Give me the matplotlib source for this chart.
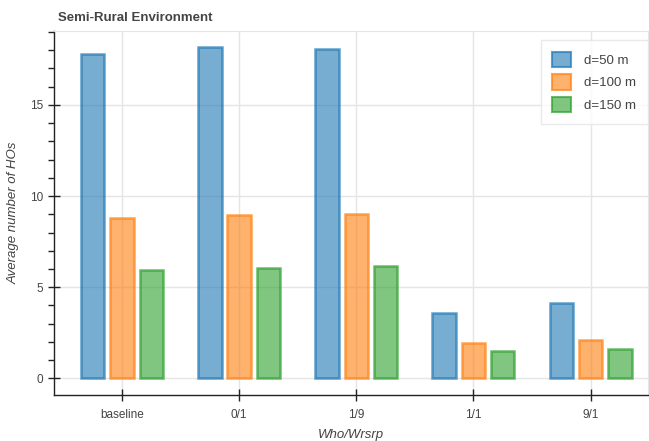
import numpy as np
import matplotlib
matplotlib.use("Agg")
import matplotlib.pyplot as plt
from matplotlib.patches import Patch

plt.rcParams["font.family"] = ["Liberation Sans", "DejaVu Sans"]

categories = ["baseline", "0/1", "1/9", "1/1", "9/1"]
series_names = ["d=50 m", "d=100 m", "d=150 m"]
d50 = [17.77, 18.17, 18.05, 3.56, 4.14]
d100 = [8.78, 8.98, 9.03, 1.92, 2.10]
d150 = [5.95, 6.08, 6.19, 1.48, 1.59]
colors = ["#1f77b4", "#ff7f0e", "#2ca02c"]

fig = plt.figure(figsize=(6.49, 4.41), dpi=100)
ax = fig.add_axes([54/649, 46/441, 594/649, 364/441])

x = np.arange(len(categories))
offsets = [-0.25, 0.0, 0.25]
for vals, off, col, name in zip([d50, d100, d150], offsets, colors, series_names):
    ax.bar(x + off, vals, width=0.2, facecolor=matplotlib.colors.to_rgba(col, 0.6),
           edgecolor=matplotlib.colors.to_rgba(col, 0.7), linewidth=1.8, zorder=3)

ax.set_xlim(-0.58, 4.49)
ax.set_ylim(-0.91, 19.05)
ax.set_xticks(x)
ax.set_xticklabels(categories)
ax.set_yticks([0, 5, 10, 15])
ax.set_yticks(np.arange(0, 20, 1), minor=True)

ax.grid(True, which="major", color="#e5e5e5", linewidth=1, zorder=0)
ax.set_axisbelow(True)

for side in ["top", "right"]:
    ax.spines[side].set_color("#e5e5e5")
for side in ["left", "bottom"]:
    ax.spines[side].set_color("#222222")
    ax.spines[side].set_linewidth(1)

ax.tick_params(axis="both", which="major", direction="inout", length=8, width=1,
               labelsize=8.5, labelcolor="#444444", color="#222222")
ax.tick_params(axis="y", which="minor", direction="out", length=4, width=1, color="#222222")
ax.tick_params(axis="x", which="minor", length=0)
ax.tick_params(axis="x", pad=6)

ax.set_ylabel("Average number of HOs", fontsize=9.5, style="italic", color="#444444", labelpad=8)
ax.set_xlabel("Who/Wrsrp", fontsize=9.5, style="italic", color="#444444", labelpad=6)
fig.text(58/649, 1 - 18/441, "Semi-Rural Environment", fontsize=9.5, fontweight="bold",
         color="#444444", va="center", ha="left")

handles = [Patch(facecolor=matplotlib.colors.to_rgba(c, 0.6),
                 edgecolor=matplotlib.colors.to_rgba(c, 0.7), linewidth=1.5)
           for c in colors]
leg = ax.legend(handles, series_names, loc="upper right", bbox_to_anchor=(1.0, 0.975),
                borderaxespad=0, fontsize=9.5, frameon=True, fancybox=False, borderpad=0.9,
                handlelength=1.4, handleheight=1.4, labelspacing=0.55, handletextpad=1.0)
leg.get_frame().set_edgecolor("#e5e5e5")
leg.get_frame().set_linewidth(1)
for t in leg.get_texts():
    t.set_color("#444444")

fig.savefig("out.png", dpi=100)
